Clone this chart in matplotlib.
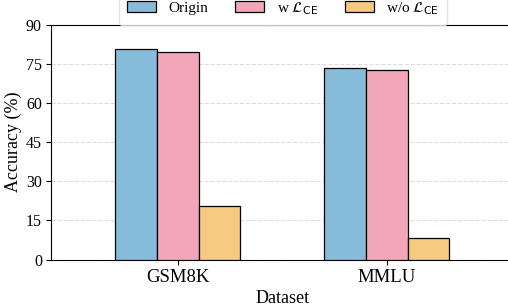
import matplotlib
matplotlib.use("Agg")
import matplotlib.pyplot as plt
import numpy as np

plt.rcParams['font.family'] = ['Liberation Serif', 'DejaVu Serif']
plt.rcParams['mathtext.fontset'] = 'dejavusans'

datasets = ["GSM8K", "MMLU"]
series_names = ["Origin", r"w $\mathcal{L}_{\mathrm{CE}}$", r"w/o $\mathcal{L}_{\mathrm{CE}}$"]
origin = [80.8, 73.6]
w_ce = [79.8, 72.7]
wo_ce = [20.4, 8.4]
colors = ["#86BCDA", "#F2A6B9", "#F6CA80"]
yticks = [0, 15, 30, 45, 60, 75, 90]

fig = plt.figure(figsize=(5.08, 3.07), dpi=100)
ax = fig.add_axes([51/508, (307-259.5)/307, 464/508, (259.5-25)/307])

x = np.arange(len(datasets))
width = 0.2
for i, (vals, name, c) in enumerate(zip([origin, w_ce, wo_ce], series_names, colors)):
    ax.bar(x + (i - 1) * width, vals, width, color=c, edgecolor="black",
           linewidth=0.9, label=name, zorder=3)

ax.set_ylim(0, 90)
ax.set_yticks(yticks)
ax.set_xlim(-0.606, 1.614)
ax.set_xticks(x)
ax.set_xticklabels(datasets, fontsize=13.5)
ax.tick_params(axis='y', labelsize=11.5, pad=3)
ax.tick_params(axis='x', pad=3)
ax.set_xlabel("Dataset", fontsize=13, labelpad=3)
ax.set_ylabel("Accuracy (%)", fontsize=13, labelpad=3)
ax.yaxis.grid(True, linestyle="--", color="#dddddd", linewidth=0.8, zorder=0)
ax.spines['right'].set_visible(False)
ax.legend(loc="lower center", bbox_to_anchor=(0.5, 1.002), ncol=3, fontsize=11,
          frameon=True, handlelength=1.9, handletextpad=0.8, columnspacing=1.8,
          borderpad=0.5, borderaxespad=0, edgecolor="#dddddd", fancybox=True)

fig.savefig("out.png", dpi=100)
